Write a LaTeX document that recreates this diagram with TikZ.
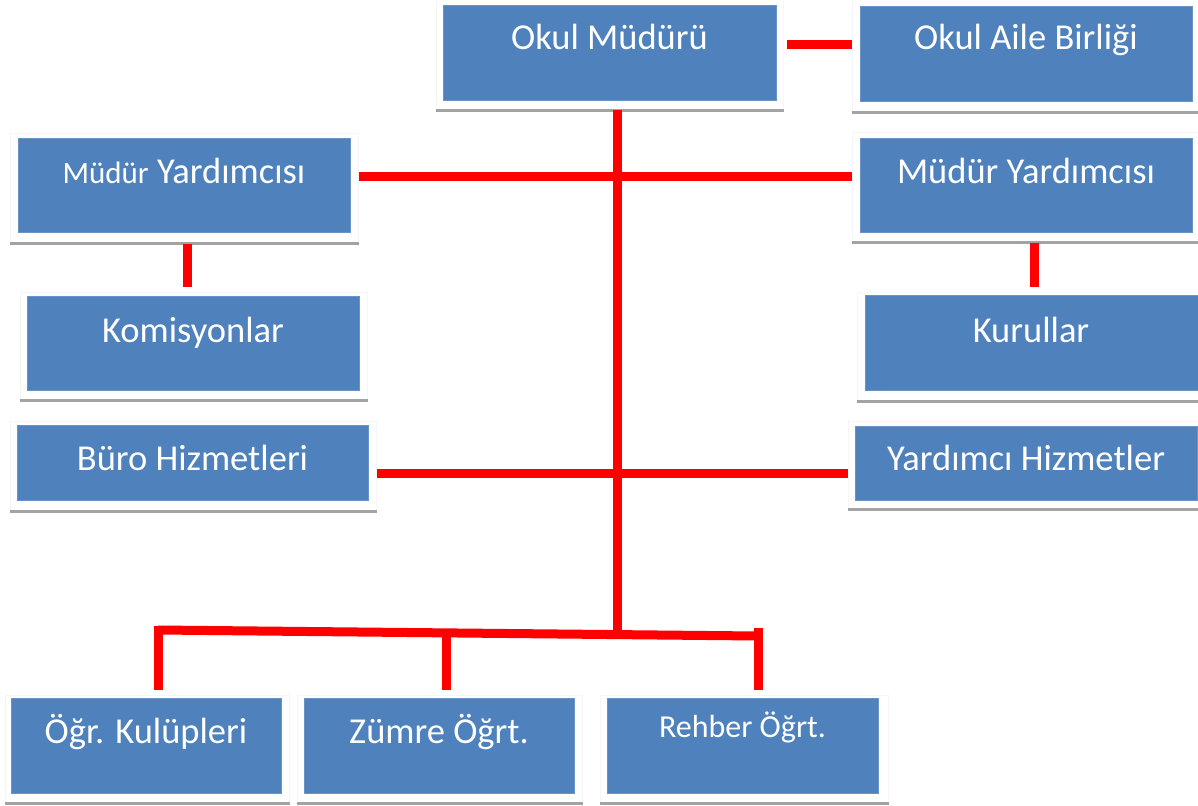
\documentclass[tikz,border=0pt]{standalone}
\usepackage{fontspec}
\setmainfont{Carlito}
\usetikzlibrary{fit}
\definecolor{boxblue}{HTML}{4F81BD}
\definecolor{shade}{HTML}{A3A3A3}
\begin{document}
\begin{tikzpicture}[x=1pt,y=-1pt,
  frm/.style={draw=gray!7, line width=1pt, fill=white, inner sep=0pt},
  bbox/.style={fill=boxblue, draw=boxblue!85!white, line width=0.8pt, inner sep=0pt},
  lbl/.style={text=white, inner sep=0pt, anchor=base, font=\fontsize{36.5}{44}\selectfont},
  slbl/.style={lbl, font=\fontsize{32}{38}\selectfont},
  sh/.style={draw=shade, line width=3.5pt},
  link/.style={draw=red, line width=9pt}]
\useasboundingbox (0,0) rectangle (1198,805);

% Okul Müdürü
\node[frm, fit={(436,0) (783,110)}] (mf) {};
\draw[sh] (mf.south west) -- (mf.south east);
\node[bbox, fit={(443,5) (776,100)}] (m) {};
\node[lbl] (mt) at (609.5,50) {Okul Müdürü};

% Okul Aile Birliği
\node[frm, fit={(852,0) (1198,112)}] (af) {};
\draw[sh] (af.south west) -- (af.south east);
\node[bbox, fit={(860,6) (1192,101)}] (a) {};
\node[lbl] (at) at (1026,50) {Okul Aile Birliği};

% Left Müdür Yardımcısı
\node[frm, fit={(10,134) (358,243)}] (lyf) {};
\draw[sh] (lyf.south west) -- (lyf.south east);
\node[bbox, fit={(18,138) (350,232)}] (ly) {};
\node[lbl] (lyt) at (184,183) {{\fontsize{31}{37}\selectfont Müdür} Yardımcısı};

% Right Müdür Yardımcısı
\node[frm, fit={(852,133) (1198,242)}] (ryf) {};
\draw[sh] (ryf.south west) -- (ryf.south east);
\node[bbox, fit={(860,138) (1192,232)}] (ry) {};
\node[lbl] (ryt) at (1026,183) {Müdür Yardımcısı};

% Komisyonlar
\node[frm, fit={(20,292) (367,400)}] (kf) {};
\draw[sh] (kf.south west) -- (kf.south east);
\node[bbox, fit={(27,296) (359,390)}] (k) {};
\node[lbl] (kt) at (193,342) {Komisyonlar};

% Kurullar
\node[frm, fit={(857,292) (1198,401)}] (uf) {};
\draw[sh] (uf.south west) -- (uf.south east);
\node[bbox, fit={(865,295) (1198,390)}] (u) {};
\node[lbl] (ut) at (1031,342) {Kurullar};

% Büro Hizmetleri
\node[frm, fit={(10,421) (376,511)}] (bf) {};
\draw[sh] (bf.south west) -- (bf.south east);
\node[bbox, fit={(17,425) (368,500)}] (b) {};
\node[lbl] (bt) at (192.5,470) {Büro Hizmetleri};

% Yardımcı Hizmetler
\node[frm, fit={(848,421) (1198,509)}] (yf) {};
\draw[sh] (yf.south west) -- (yf.south east);
\node[bbox, fit={(855,426) (1197,500)}] (y) {};
\node[lbl] (yt) at (1026,470) {Yardımcı Hizmetler};

% Öğr. Kulüpleri
\node[frm, fit={(5,695) (289,803)}] (of) {};
\draw[sh] (of.south west) -- (of.south east);
\node[bbox, fit={(11,698) (281,793)}] (o) {};
\node[lbl] (ot) at (146,743) {Öğr. Kulüpleri};

% Zümre Öğrt.
\node[frm, fit={(297,695) (582,803)}] (zf) {};
\draw[sh] (zf.south west) -- (zf.south east);
\node[bbox, fit={(304,698) (574,793)}] (z) {};
\node[lbl] (zt) at (439,743) {Zümre Öğrt.};

% Rehber Öğrt.
\node[frm, fit={(600,695) (888,803)}] (rf) {};
\draw[sh] (rf.south west) -- (rf.south east);
\node[bbox, fit={(607,698) (878,793)}] (r) {};
\node[slbl] (rt) at (742.5,737) {Rehber Öğrt.};

% connectors
\coordinate (yTop) at (0,44.5);
\coordinate (yMY) at (0,177);
\coordinate (yBH) at (0,473.5);
\coordinate (xK) at (187,0);
\coordinate (xU) at (1034,0);
\coordinate (trunk) at (617,631);
\coordinate (bL) at (158,630);
\coordinate (bLt) at (158,626);
\coordinate (bM) at (446,633);
\coordinate (bR) at (758,636);
\coordinate (bRt) at (758,628);

\draw[link, shorten <=3pt] (mf.east |- yTop) -- (af.west |- yTop);
\draw[link] (trunk |- mf.south) -- (trunk);
\draw[link] (lyf.east |- yMY) -- (ryf.west |- yMY);
\draw[link, shorten >=5pt] (xK |- lyf.south) -- (xK |- kf.north);
\draw[link, shorten >=5pt] (xU |- ryf.south) -- (xU |- uf.north);
\draw[link] (bf.east |- yBH) -- (yf.west |- yBH);
\draw[link] (bL) -- (bR);
\draw[link, shorten >=5pt] (bLt) -- (bLt |- of.north);
\draw[link, shorten >=5pt] (bM) -- (bM |- zf.north);
\draw[link, shorten >=5pt] (bRt) -- (bRt |- rf.north);
\end{tikzpicture}
\end{document}
